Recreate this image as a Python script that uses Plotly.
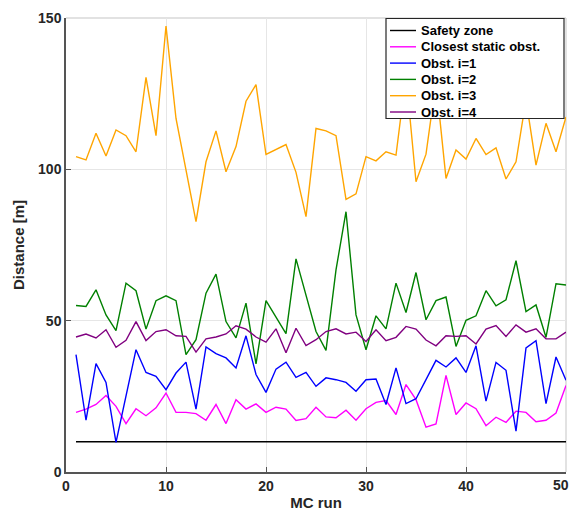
import plotly.graph_objects as go

# Monte Carlo run index
runs = list(range(1, 51))

safety_zone = [10] * 50

closest_static = [19.7, 20.8, 22.3, 25.3, 21.7, 16.0, 20.9, 18.6, 21.2, 26.1,
                  19.7, 19.7, 19.3, 17.1, 22.3, 16.0, 23.9, 20.8, 22.5, 19.7,
                  21.4, 20.8, 17.0, 17.6, 21.4, 18.2, 17.9, 20.4, 17.1, 20.9,
                  23.0, 23.6, 19.0, 28.9, 23.9, 14.8, 15.9, 31.9, 19.0, 22.8,
                  20.9, 15.3, 18.1, 16.4, 20.1, 19.7, 16.6, 17.1, 19.5, 28.6]

obst_1 = [38.8, 17.1, 35.8, 29.6, 9.8, 25.1, 40.4, 32.9, 31.6, 27.2,
          32.7, 36.3, 20.8, 41.3, 39.1, 37.7, 34.4, 45.0, 32.2, 26.3,
          34.0, 36.3, 31.3, 32.9, 28.3, 31.1, 30.5, 29.6, 26.7, 30.5,
          30.7, 22.3, 34.4, 22.6, 24.2, 30.5, 36.9, 34.7, 37.7, 32.9,
          41.7, 23.4, 36.2, 33.6, 13.5, 41.0, 43.4, 22.6, 38.0, 30.3]

obst_2 = [55.0, 54.7, 60.2, 51.9, 46.7, 62.4, 59.9, 47.2, 56.6, 58.2,
          56.6, 38.8, 43.7, 59.1, 65.4, 49.7, 44.3, 55.8, 35.7, 56.6,
          51.2, 45.7, 70.4, 58.0, 46.4, 40.2, 66.8, 86.0, 51.9, 40.4,
          51.6, 47.3, 62.4, 52.7, 65.9, 50.3, 56.6, 57.8, 41.5, 50.1,
          51.6, 59.9, 54.9, 56.9, 69.8, 53.0, 55.2, 44.5, 62.2, 61.8]

obst_3 = [104.2, 103.1, 111.9, 104.4, 113.0, 111.1, 105.8, 130.4, 111.1, 147.3,
          116.8, 100.0, 82.7, 102.5, 112.7, 99.2, 107.5, 122.5, 128.0, 104.9,
          106.6, 108.2, 99.0, 84.4, 113.5, 112.7, 111.1, 90.1, 91.9, 104.2,
          102.8, 105.8, 104.7, 131.0, 95.9, 105.0, 129.0, 97.0, 106.4, 103.4,
          110.2, 104.9, 107.1, 96.8, 102.5, 123.0, 101.4, 115.2, 105.8, 117.3]

obst_4 = [44.6, 45.6, 44.3, 47.0, 41.2, 43.5, 49.7, 43.4, 46.4, 47.0,
          45.0, 44.8, 39.6, 44.0, 44.6, 45.6, 48.3, 47.2, 44.6, 42.9,
          47.3, 39.4, 47.5, 41.8, 43.7, 46.4, 47.3, 45.6, 46.2, 43.1,
          47.0, 43.4, 44.5, 48.1, 47.2, 43.6, 41.7, 45.0, 44.8, 45.0,
          42.3, 47.2, 48.4, 44.8, 48.6, 46.2, 47.3, 44.0, 44.0, 46.2]

series_names = ["Safety zone", "Closest static obst.", "Obst. i=1",
                "Obst. i=2", "Obst. i=3", "Obst. i=4"]
series_values = [safety_zone, closest_static, obst_1, obst_2, obst_3, obst_4]
series_colors = ["#000000", "#ff00ff", "#0000ff", "#008000", "#ffa500", "#800080"]

x_ticks = [0, 10, 20, 30, 40, 50]
x_tick_labels = ["0", "10", "20", "30", "40", "50"]
y_ticks = [0, 50, 100, 150]

FONT = "Liberation Sans, Arial, sans-serif"
AXIS_COLOR = "#262626"

W, H = 571, 512
M_L, M_R, M_T, M_B = 66, 5, 18, 40
PLOT_W = W - M_L - M_R
PLOT_H = H - M_T - M_B


def px_to_paper(px, py):
    """Convert a pixel position on the page to paper coordinates."""
    return (px - M_L) / PLOT_W, (H - M_B - py) / PLOT_H


fig = go.Figure()
for name, values, color in zip(series_names, series_values, series_colors):
    fig.add_trace(go.Scatter(
        x=runs, y=values, mode="lines", name=name,
        line=dict(color=color, width=1.4), showlegend=False,
    ))

tick_font = dict(family=FONT, size=14, color=AXIS_COLOR, weight="bold")
axis_common = dict(
    showgrid=True, gridcolor="#e6e6e6", gridwidth=1,
    showline=True, linecolor="#555555", linewidth=1.5,
    ticks="inside", ticklen=5, tickcolor="#555555",
    zeroline=False, automargin=False,
    tickfont=tick_font,
)

# the last x label sits against the page edge, so it is placed right-aligned
fig.update_xaxes(
    range=[0, 50], tickvals=x_ticks,
    ticktext=x_tick_labels[:-1] + [""],
    title=dict(text="MC run", standoff=5,
               font=dict(family=FONT, size=15, color=AXIS_COLOR, weight="bold")),
    **axis_common,
)
fig.update_yaxes(
    range=[0, 150], tickvals=y_ticks,
    title=dict(text="Distance [m]", standoff=10,
               font=dict(family=FONT, size=15, color=AXIS_COLOR, weight="bold")),
    **axis_common,
)
last_x, last_y = px_to_paper(W - 1, 485)
fig.add_annotation(xref="paper", yref="paper", x=last_x, y=last_y,
                   xanchor="right", yanchor="middle", showarrow=False,
                   text=x_tick_labels[-1], borderpad=0, font=tick_font)

# light box edges on top and right
fig.add_shape(type="line", xref="paper", yref="paper", x0=0, x1=1, y0=1, y1=1,
              line=dict(color="#d9d9d9", width=1.5), layer="below")
fig.add_shape(type="line", xref="paper", yref="paper", x0=1, x1=1, y0=0, y1=1,
              line=dict(color="#d9d9d9", width=1.5), layer="below")

# compact boxed legend in the upper right corner
box_x0, box_y0 = px_to_paper(386, 118.5)
box_x1, box_y1 = px_to_paper(564, 18.5)
fig.add_shape(type="rect", xref="paper", yref="paper",
              x0=box_x0, y0=box_y0, x1=box_x1, y1=box_y1,
              fillcolor="white", line=dict(color=AXIS_COLOR, width=1.2),
              layer="above")
row_top, row_step = 30.5, 16.3
for i, (name, color) in enumerate(zip(series_names, series_colors)):
    row_y = row_top + i * row_step
    lx0, ly = px_to_paper(390, row_y)
    lx1, _ = px_to_paper(416, row_y)
    fig.add_shape(type="line", xref="paper", yref="paper",
                  x0=lx0, x1=lx1, y0=ly, y1=ly,
                  line=dict(color=color, width=1.4), layer="above")
    tx, _ = px_to_paper(420, row_y)
    fig.add_annotation(xref="paper", yref="paper", x=tx, y=ly,
                       xanchor="left", yanchor="middle", showarrow=False,
                       text=name, borderpad=0,
                       font=dict(family=FONT, size=13, color="#000000",
                                 weight="bold"))

fig.update_layout(
    width=W, height=H,
    margin=dict(l=M_L, r=M_R, t=M_T, b=M_B),
    plot_bgcolor="white", paper_bgcolor="white",
    showlegend=False,
)

fig.write_html("out.html")
